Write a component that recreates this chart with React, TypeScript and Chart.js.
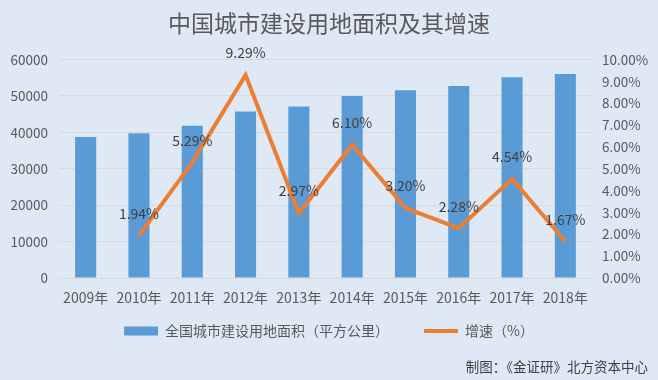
import React, { useEffect, useRef } from "react";
import { Chart, registerables } from "chart.js";

Chart.register(...registerables);

const categories = ["2009年", "2010年", "2011年", "2012年", "2013年", "2014年", "2015年", "2016年", "2017年", "2018年"];
const areaValues = [38727, 39758, 41805, 45751, 47108, 49983, 51584, 52761, 55156, 56076];
const growthValues = [null, 1.94, 5.29, 9.29, 2.97, 6.1, 3.2, 2.28, 4.54, 1.67];
const titleText = "中国城市建设用地面积及其增速";
const barLabel = "全国城市建设用地面积（平方公里）";
const lineLabel = "增速（%）";
const sourceText = "制图：《金证研》北方资本中心";

const FONT = "'Noto Sans CJK SC', 'Noto Sans', sans-serif";
const BG = "#dfe9f5";
const LEGEND_LIFT = 17;

const bgAndLabels = {
  id: "bgAndLabels",
  afterLayout(chart: any) {
    const lg = chart.legend;
    if (lg) {
      lg.top -= LEGEND_LIFT;
      lg.bottom -= LEGEND_LIFT;
    }
  },
  beforeDraw(chart: any) {
    const ctx = chart.ctx;
    ctx.save();
    ctx.fillStyle = BG;
    ctx.fillRect(0, 0, chart.width, chart.height);
    ctx.restore();
  },
  afterDatasetsDraw(chart: any) {
    const ctx = chart.ctx;
    const meta = chart.getDatasetMeta(1);
    ctx.save();
    ctx.font = `14px ${FONT}`;
    ctx.fillStyle = "#404040";
    ctx.textAlign = "center";
    ctx.textBaseline = "middle";
    meta.data.forEach((pt: any, i: number) => {
      const v = growthValues[i];
      if (v === null || v === undefined) return;
      ctx.fillText(v.toFixed(2) + "%", pt.x, pt.y - 22);
    });
    ctx.restore();
  },
  afterDraw(chart: any) {
    const ctx = chart.ctx;
    ctx.save();
    ctx.font = `13.5px ${FONT}`;
    ctx.fillStyle = "#404040";
    ctx.textAlign = "right";
    ctx.textBaseline = "middle";
    ctx.fillText(sourceText, 648, 367);
    ctx.restore();
  },
};

export default function App() {
  const ref = useRef<HTMLCanvasElement>(null);
  useEffect(() => {
    document.body.style.margin = "0";
    const chart = new Chart(ref.current!, {
      type: "bar",
      data: {
        labels: categories,
        datasets: [
          {
            type: "bar",
            label: barLabel,
            data: areaValues,
            backgroundColor: "#5b9bd5",
            yAxisID: "y",
            order: 2,
            categoryPercentage: 1,
            barPercentage: 0.395,
          },
          {
            type: "line",
            label: lineLabel,
            data: growthValues as any,
            borderColor: "#ed7d31",
            backgroundColor: "#ed7d31",
            borderWidth: 4,
            pointRadius: 0,
            tension: 0,
            yAxisID: "y1",
            order: 1,
          },
        ],
      },
      options: {
        animation: false,
        responsive: false,
        maintainAspectRatio: false,
        layout: { padding: { left: 0, right: 0, top: 0, bottom: 15 } },
        plugins: {
          tooltip: { enabled: false },
          title: {
            display: true,
            text: titleText,
            color: "#595959",
            font: { family: FONT, size: 23, weight: "normal" },
            padding: { top: 9, bottom: 23 },
          },
          legend: {
            position: "bottom",
            labels: {
              color: "#595959",
              font: { family: FONT, size: 14 },
              usePointStyle: true,
              pointStyleWidth: 34,
              boxHeight: 9,
              padding: 35,
              sort: (a: any, b: any) => a.datasetIndex - b.datasetIndex,
              generateLabels: (c: any) => {
                const items = Chart.defaults.plugins.legend.labels.generateLabels(c);
                items.forEach((it: any) => {
                  if (it.datasetIndex === 0) {
                    it.pointStyle = "rect";
                    it.lineWidth = 0;
                  } else {
                    it.pointStyle = "line";
                    it.lineWidth = 4;
                  }
                });
                return items;
              },
            },
          },
        },
        scales: {
          x: {
            grid: { display: false, drawTicks: false },
            border: { display: true, color: "#d9d9d9" },
            ticks: { color: "#595959", font: { family: FONT, size: 14 }, padding: 11, maxRotation: 0, autoSkip: false },
            afterFit: (s: any) => { s.height = 28; },
          },
          y: {
            position: "left",
            min: 0,
            max: 60000,
            ticks: {
              stepSize: 10000,
              color: "#595959",
              font: { family: FONT, size: 13.5 },
              padding: 11,
              callback: (v: any) => String(v),
            },
            grid: { color: "#d9d9d9", drawTicks: false },
            border: { display: false },
            afterFit: (s: any) => { s.width = 59; },
          },
          y1: {
            position: "right",
            min: 0,
            max: 10,
            ticks: {
              stepSize: 1,
              autoSkip: false,
              color: "#595959",
              font: { family: FONT, size: 13.5 },
              padding: 10,
              callback: (v: any) => Number(v).toFixed(2) + "%",
            },
            grid: { display: false, drawTicks: false },
            border: { display: false },
            afterFit: (s: any) => { s.width = 66; },
          },
        },
      },
      plugins: [bgAndLabels],
    });
    return () => chart.destroy();
  }, []);
  return (
    <div style={{ width: 658, height: 380, background: BG }}>
      <canvas ref={ref} width={658} height={380} style={{ display: "block" }} />
    </div>
  );
}
